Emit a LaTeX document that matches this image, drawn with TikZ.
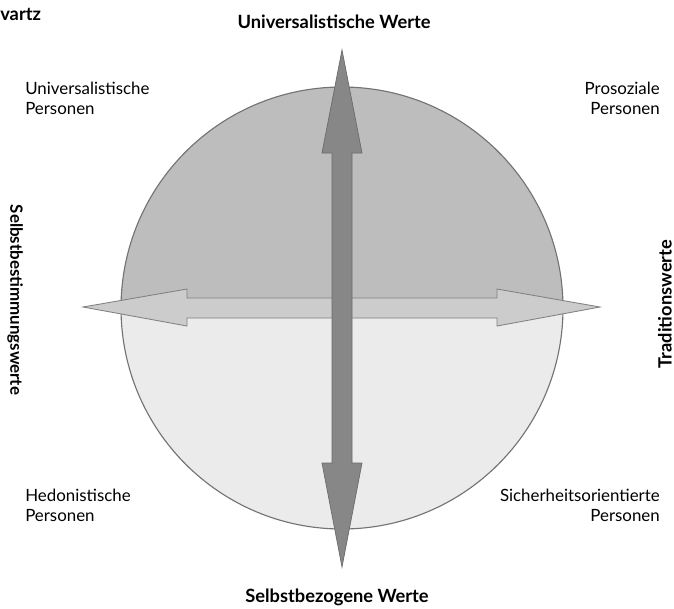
\documentclass[tikz,border=0pt]{standalone}
\usepackage{fontspec}
\setmainfont{Lato}
\usepackage{xcolor}
\usepackage{tikz}
\usetikzlibrary{positioning}

\definecolor{upperhalf}{gray}{0.74}
\definecolor{lowerhalf}{gray}{0.92}
\definecolor{rimline}{gray}{0.45}
\definecolor{harrowfill}{gray}{0.80}
\definecolor{harrowline}{gray}{0.50}
\definecolor{varrowfill}{gray}{0.53}
\definecolor{varrowline}{gray}{0.42}

\begin{document}
\begin{tikzpicture} [x = 0.025cm, y = -0.025cm,
          axis/.style = {font = \bfseries\fontsize{13}{15}\selectfont},
          group/.style = {font = \fontsize{12}{14}\selectfont, align = left},
          groupr/.style = {group, align = right},
          halfdisc/.style = {draw = rimline, line width = 0.8pt},
          harrow/.style = {draw = harrowline, fill = harrowfill, line width = 0.6pt},
          varrow/.style = {draw = varrowline, fill = varrowfill, line width = 0.5pt}
          ]

          \useasboundingbox (0,0) rectangle (674,608);

          % Circle
          \coordinate (c) at (342,308);
          \fill [upperhalf] (563,308) arc [start angle = 0, end angle = -180, radius = 221] -- cycle;
          \fill [lowerhalf] (121,308) arc [start angle = 180, end angle = 0, radius = 221] -- cycle;
          \draw [halfdisc] (c) circle [radius = 221];

          % Horizontal arrow
          \draw [harrow] (83,307) -- (187,289) -- (187,298) -- (497,298) -- (497,289) -- (600,307)
                -- (497,326) -- (497,318) -- (187,318) -- (187,326) -- cycle;

          % Vertical arrow
          \draw [varrow] (342,50) -- (362,153) -- (352,153) -- (352,463) -- (362,463) -- (342,567)
                -- (322,463) -- (332,463) -- (332,153) -- (322,153) -- cycle;

          % Axis labels
          \node (top) [axis] at (334,22) {Universalistische Werte};
          \node (bottom) [axis] at (337,597) {Selbstbezogene Werte};
          \node (left) [axis, font = \bfseries\fontsize{12}{14}\selectfont, rotate = -90] at (15,300) {Selbstbestimmungswerte};
          \node (right) [axis, rotate = 90] at (665,304) {Traditionswerte};
          \node (author) [axis, anchor = west, inner sep = 0pt] at (0,14) {vartz};

          % Groups
          \node (ul) [group, anchor = north west, inner sep = 0pt] at (25,82) {Universalistische\\Personen};
          \node (ur) [groupr, anchor = north east, inner sep = 0pt] at (660,82) {Prosoziale\\Personen};
          \node (ll) [group, anchor = north west, inner sep = 0pt] at (25,489) {Hedonistische\\Personen};
          \node (lr) [groupr, anchor = north east, inner sep = 0pt] at (660,489) {Sicherheitsorientierte\\Personen};

        \end{tikzpicture}
\end{document}
